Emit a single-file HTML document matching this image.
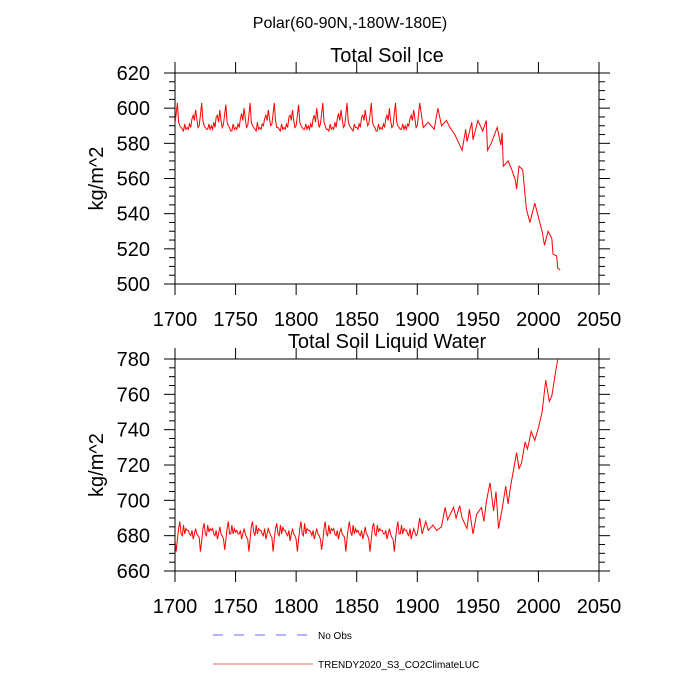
<!DOCTYPE html>
<html><head><meta charset="utf-8"><style>
html,body{margin:0;padding:0;background:#fff;width:700px;height:700px;overflow:hidden}
svg text{font-family:"Liberation Sans",sans-serif;fill:#000}
</style></head><body>
<svg id="chart" width="700" height="700" viewBox="0 0 700 700" xmlns="http://www.w3.org/2000/svg">
<text x="350" y="28" font-size="16" text-anchor="middle">Polar(60-90N,-180W-180E)</text>
<g id="top"></g>
<g id="bot"></g>
<g>
<line x1="213" y1="635" x2="308" y2="635" stroke="#6a6af0" stroke-width="1" stroke-dasharray="10,11"/>
<text x="318" y="639" font-size="10">No Obs</text>
<line x1="213" y1="664" x2="313" y2="664" stroke="#ff6060" stroke-width="1"/>
<text x="318" y="668" font-size="10">TRENDY2020_S3_CO2ClimateLUC</text>
</g>
</svg>
<script>
const xTicks=[1700,1750,1800,1850,1900,1950,2000,2050];
const iceTicks=[500,520,540,560,580,600,620];
const liqTicks=[660,680,700,720,740,760,780];
const preIce=[
591,597,603,592,590,589,588,587,591,588,589,588,591,589,594,596,593,599,594,589,
590,596,603,593,590,589,588,588,591,588,590,588,592,589,595,596,592,599,593,589,
591,597,602,592,590,589,587,587,591,588,589,588,591,589,594,597,593,600,594,589,
590,596,603,592,590,589,588,587,592,588,589,588,591,590,594,596,593,599,594,590,
591,597,603,593,589,589,588,587,591,588,589,588,591,589,595,596,593,599,593,589,
590,596,602,592,590,589,588,588,591,588,590,588,591,589,594,596,592,600,594,589,
591,597,603,592,590,588,588,587,591,588,589,588,592,589,594,597,593,599,594,589,
590,596,603,593,590,589,588,587,591,589,589,588,591,589,595,596,593,599,594,590,
591,596,603,592,590,589,587,587,591,588,589,588,591,589,594,596,593,600,593,589,
590,597,603,592,590,589,588,588,591,588,590,588,591,590,594,596,593,599,594,589];
const lateIceYears=[1900,1902,1905,1909,1914,1917,1920,1924,1927,1931,1935,1937,1940,1941,1945,1946,1950,1954,1957,1958,1961,1966,1969,1970,1971,1975,1978,1981,1982,1984,1987,1990,1993,1997,2000,2003,2005,2008,2011,2012,2015,2016,2018];
const lateIce=[590,603,589,592,588,600,590,593,589,585,579,576,588,581,592,582,593,587,593,576,580,589,579,586,567,570,565,559,554,567,565,543,535,546,538,530,522,530,526,517,516,509,508];
const preLiq=[
678,671,678,684,688,681,680,686,681,684,683,683,681,680,683,678,681,684,681,680,
679,671,677,684,687,681,680,686,682,684,683,684,681,680,683,678,681,685,681,680,
678,672,678,684,688,681,681,686,681,684,682,683,681,681,683,678,681,684,681,679,
678,671,678,685,688,682,680,686,681,684,683,683,681,680,684,678,681,684,682,680,
679,671,678,684,687,681,680,686,681,685,683,683,681,680,683,677,681,684,681,680,
678,671,678,684,688,681,680,687,681,684,683,683,682,680,683,678,681,684,681,680,
678,672,677,684,688,681,680,686,681,684,683,684,681,680,683,678,682,684,681,680,
679,671,678,684,688,682,680,686,681,684,682,683,681,680,683,678,681,685,681,680,
678,671,678,685,687,681,680,686,682,684,683,683,681,681,683,678,681,684,681,679,
678,671,678,684,688,681,681,686,681,684,683,683,681,680,684,678,681,684,682,680];
const lateLiqYears=[1900,1902,1904,1907,1909,1913,1916,1920,1923,1925,1930,1932,1935,1937,1941,1943,1946,1949,1953,1955,1957,1960,1963,1965,1967,1970,1973,1975,1977,1982,1984,1986,1989,1991,1994,1997,2000,2003,2006,2009,2011,2014,2016,2018];
const lateLiq=[681,690,681,688,683,686,683,685,696,689,696,690,697,690,684,695,681,692,696,688,699,710,694,705,684,695,708,698,708,727,718,721,733,729,739,734,741,750,768,756,759,772,780,782];

function mk(tag,attrs,parent){const e=document.createElementNS('http://www.w3.org/2000/svg',tag);for(const k in attrs)e.setAttribute(k,attrs[k]);parent.appendChild(e);return e;}
const X0=175,X1=599;
const xs=v=>X0+(v-1700)/(350)*(X1-X0);
function panel(g,top,bottom,ymin,ymax,ticks,title,preVals,lateYears,lateVals,minorStep){
  const ys=v=>bottom-(v-ymin)/(ymax-ymin)*(bottom-top);
  const ax=mk('rect',{x:X0,y:top,width:X1-X0,height:bottom-top,fill:'none',stroke:'#000','stroke-width':1},g);
  
  
  for(let v=ymin;v<=ymax;v+=minorStep){
    const major=ticks.includes(v);const L=major?11:6;
    for(const side of [0,1]){
      const x=side?X1:X0;const d=side?L:-L;
      const t=mk('line',{x1:x,x2:x+d,y1:ys(v),y2:ys(v),stroke:'#000','stroke-width':1},g);
      
      
    }
  }
  ticks.forEach(v=>{
    const t=mk('text',{x:150,y:ys(v)+7,'font-size':20,'text-anchor':'end'},g);t.textContent=v;
    
    
  });
  xTicks.forEach(v=>{
    const a=mk('line',{x1:xs(v),x2:xs(v),y1:bottom,y2:bottom+11,stroke:'#000'},g);
    
    
    const b=mk('line',{x1:xs(v),x2:xs(v),y1:top,y2:top-11,stroke:'#000'},g);
    
    
    const t=mk('text',{x:xs(v),y:bottom+42,'font-size':20,'text-anchor':'middle'},g);t.textContent=v;
    
    
  });
  const tt=mk('text',{x:387,y:top-11,'font-size':20,'text-anchor':'middle'},g);tt.textContent=title;
  
  
  const cy=(top+bottom)/2;
  const yl=mk('text',{x:103,y:cy,'font-size':20,'text-anchor':'middle',transform:`rotate(-90 103 ${cy})`},g);yl.textContent='kg/m^2';
  
  
  const pts=[];
  preVals.forEach((v,i)=>pts.push(xs(1700+i).toFixed(1)+','+ys(v).toFixed(1)));
  lateYears.forEach((yr,i)=>pts.push(xs(yr).toFixed(1)+','+ys(lateVals[i]).toFixed(1)));
  const cp=mk('clipPath',{id:'c'+top},g);mk('rect',{x:X0,y:top,width:X1-X0,height:bottom-top},cp);
  const pl=mk('polyline',{points:pts.join(' '),fill:'none',stroke:'#ff0000','stroke-width':1,'clip-path':`url(#c${top})`},g);
  
  
}
panel(document.getElementById('top'),73,284,500,620,iceTicks,'Total Soil Ice',preIce,lateIceYears,lateIce,5);
panel(document.getElementById('bot'),359,571,660,780,liqTicks,'Total Soil Liquid Water',preLiq,lateLiqYears,lateLiq,5);
</script>
</body></html>
